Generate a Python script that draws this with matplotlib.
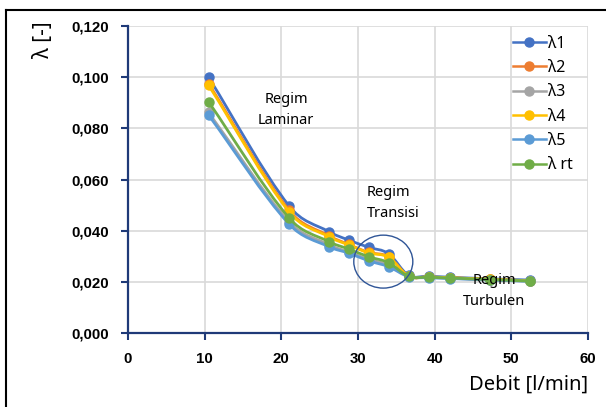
import numpy as np
import matplotlib
matplotlib.use('Agg')
import matplotlib.pyplot as plt
from matplotlib.path import Path
from matplotlib.patches import PathPatch, Ellipse
from matplotlib.lines import Line2D

# data
debit = [10.5, 21.0, 26.2, 28.8, 31.4, 34.0, 36.6, 39.2, 42.0, 47.2, 52.4]
lam1 = [0.1000, 0.0497, 0.0396, 0.0363, 0.0335, 0.0310, 0.0225, 0.0222, 0.0218, 0.0212, 0.0207]
lam2 = [0.0975, 0.0480, 0.0380, 0.0346, 0.0315, 0.0298, 0.0222, 0.0219, 0.0216, 0.0210, 0.0204]
lam3 = [0.0862, 0.0435, 0.0345, 0.0316, 0.0288, 0.0266, 0.0221, 0.0218, 0.0214, 0.0208, 0.0203]
lam4 = [0.0969, 0.0474, 0.0376, 0.0344, 0.0313, 0.0296, 0.0222, 0.0219, 0.0216, 0.0210, 0.0204]
lam5 = [0.0852, 0.0426, 0.0337, 0.0312, 0.0282, 0.0259, 0.0220, 0.0216, 0.0213, 0.0207, 0.0202]
lamrt = [0.0904, 0.0450, 0.0357, 0.0328, 0.0298, 0.0275, 0.0221, 0.0218, 0.0215, 0.0209, 0.0203]
series = [('λ1', lam1, '#4472C4'), ('λ2', lam2, '#ED7D31'), ('λ3', lam3, '#A5A5A5'),
          ('λ4', lam4, '#FFC000'), ('λ5', lam5, '#5B9BD5'), ('λ rt', lamrt, '#70AD47')]
xticks = [0, 10, 20, 30, 40, 50, 60]
yticks = [0.0, 0.02, 0.04, 0.06, 0.08, 0.10, 0.12]

plt.rcParams['font.family'] = ['Noto Sans', 'DejaVu Sans']
navy = '#1F3A78'


def smooth_path(x, y):
    # bezier through the points, slopes from neighbours (x-parametrised)
    x = np.asarray(x, float); y = np.asarray(y, float)
    n = len(x)
    m = np.empty(n)
    m[0] = (y[1] - y[0]) / (x[1] - x[0])
    m[-1] = (y[-1] - y[-2]) / (x[-1] - x[-2])
    for i in range(1, n - 1):
        m[i] = (y[i + 1] - y[i - 1]) / (x[i + 1] - x[i - 1])
    verts = [(x[0], y[0])]; codes = [Path.MOVETO]
    for i in range(n - 1):
        h = (x[i + 1] - x[i]) / 3
        verts += [(x[i] + h, y[i] + m[i] * h), (x[i + 1] - h, y[i + 1] - m[i + 1] * h), (x[i + 1], y[i + 1])]
        codes += [Path.CURVE4] * 3
    return Path(verts, codes)


fig = plt.figure(figsize=(6.06, 4.07), dpi=100)
ax = fig.add_axes([128/606, 1 - 333/407, 460/606, 307/407])

handles = []
for i, (lbl, vals, col) in enumerate(series):
    ax.add_patch(PathPatch(smooth_path(debit, vals), fill=False, edgecolor=col,
                           lw=2.0, zorder=3 + i, capstyle='round'))
    ax.plot(debit, vals, 'o', color=col, ms=6.5, zorder=3 + i)
    handles.append(Line2D([], [], color=col, lw=1.8, marker='o', ms=6.5))

ax.set_xlim(0, 60); ax.set_ylim(0, 0.12)
tickfont = dict(family='Liberation Sans', fontweight='bold', fontsize=10.8)
ax.set_xticks(xticks)
ax.set_xticklabels([str(v) for v in xticks], **tickfont)
ax.set_yticks(yticks)
ax.set_yticklabels([f'{v:.3f}'.replace('.', ',') for v in yticks], **tickfont)
ax.grid(True, color='#D9D9D9', lw=1.2, zorder=0)
ax.set_axisbelow(True)
for s in ['top', 'right']: ax.spines[s].set_visible(False)
for s in ['left', 'bottom']: ax.spines[s].set_color(navy); ax.spines[s].set_linewidth(1.6)
ax.tick_params(colors=navy, width=1.5, length=5, labelcolor='black')
ax.tick_params(axis='x', pad=9)
ax.tick_params(axis='y', pad=9)

ax.legend(handles, [s[0] for s in series], loc='upper left', bbox_to_anchor=(0.805, 1.015),
          frameon=False, fontsize=11.5, handlelength=2.1, handletextpad=0.1, labelspacing=0.52)

ax.add_patch(Ellipse((33.3, 0.0279), 7.7, 0.0207, fill=False, edgecolor='#2F5597', lw=1.0, zorder=10))

fig.text(286/606, 1 - 110/407, 'Regim\nLaminar', fontsize=10.5, ha='center', va='center', linespacing=1.6)
fig.text(367/606, 1 - 203/407, 'Regim\nTransisi', fontsize=10.5, ha='left', va='center', linespacing=1.6)
fig.text(494/606, 1 - 291/407, 'Regim\nTurbulen', fontsize=10.5, ha='center', va='center', linespacing=1.6, zorder=20)

fig.text(44/606, 1 - 40/407, 'λ [-]', rotation=90, fontsize=15, ha='center', va='center')
fig.text(588/606, 1 - 385/407, 'Debit [l/min]', fontsize=14.5, ha='right', va='center')

# outer frame (top and left edges)
fig.add_artist(Line2D([6/606, 1], [1 - 10/407] * 2, color='black', lw=1.5))
fig.add_artist(Line2D([6/606] * 2, [0, 1 - 10/407], color='black', lw=1.5))

fig.savefig('out.png', dpi=100)
